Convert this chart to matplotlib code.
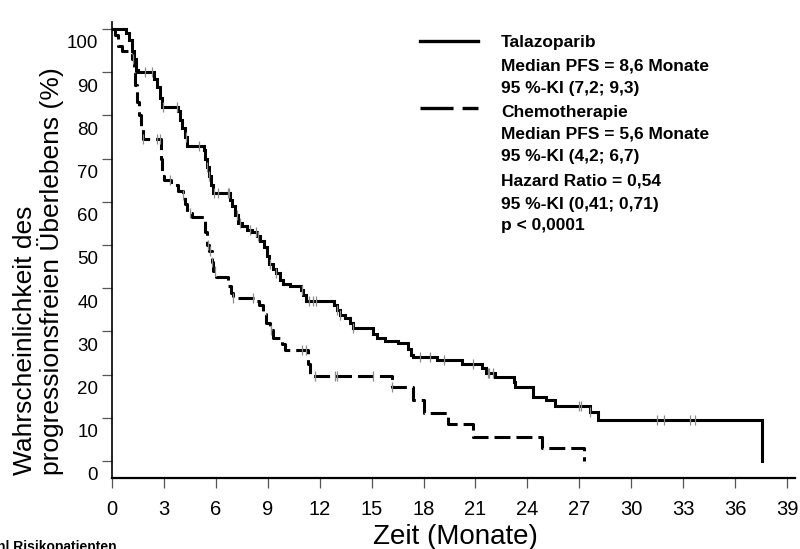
import numpy as np
import matplotlib
matplotlib.use("Agg")
import matplotlib.pyplot as plt
from matplotlib import transforms
from matplotlib.lines import Line2D

plt.rcParams['font.family'] = ['Liberation Sans', 'DejaVu Sans']
plt.rcParams['lines.scale_dashes'] = False

# ---- data ----
tala_t = [0, 0.8, 1.0, 1.15, 1.25, 1.4, 1.5, 2.45, 2.6, 2.75, 2.9, 3.8, 3.95, 4.05, 4.2, 4.35,
          5.3, 5.4, 5.5, 5.6, 5.7, 5.85, 6.8, 6.95, 7.1, 7.3, 7.5, 7.8, 8.1, 8.35, 8.55, 8.8,
          8.95, 9.05, 9.3, 9.5, 9.7, 9.9, 10.3, 10.9, 11.05, 11.2, 12.8, 13.0, 13.2, 13.45,
          13.75, 13.9, 15.1, 15.3, 15.8, 16.5, 17.1, 17.3, 17.4, 18.8, 20.2, 21.4, 21.6, 22.1,
          23.2, 23.3, 24.3, 25.1, 25.6, 27.6, 28.1, 37.55]
tala_s = [100, 99, 97.5, 95, 93, 90.5, 90, 88.5, 86.5, 84, 82, 81, 79, 77, 75, 73,
          72, 70, 68, 66, 64, 62, 60.5, 59, 57, 55, 54.5, 53.5, 53, 52, 51, 49.5,
          47.5, 45.5, 44.5, 43.5, 42, 41, 40.5, 39.6, 38.5, 37, 36, 35, 33.8, 33,
          32, 30.8, 29.5, 28.5, 27.8, 27.3, 26, 24.5, 24, 23.4, 22.5, 21.5, 20.4, 19.4,
          18.2, 17.1, 14.8, 14.1, 12.8, 11.4, 9.6, 0]
tala_cens = [1.9, 2.3, 2.95, 3.75, 4.3, 5.0, 5.5, 5.6, 5.9, 6.1, 6.7, 6.75, 7.2, 7.4, 8.0, 8.3,
             8.45, 9.1, 9.5, 11.0, 11.4, 11.6, 11.8, 13.0, 13.2, 13.9, 17.8, 18.4, 19.2,
             20.85, 21.7, 21.8, 22.0, 27.0, 27.1, 27.6, 31.5, 31.9, 33.4, 33.7]

chemo_t = [0, 0.2, 0.35, 0.55, 1.0, 1.15, 1.25, 1.35, 1.45, 1.55, 1.65, 1.8, 2.85, 2.9, 3.0,
           3.4, 3.8, 4.1, 4.2, 4.35, 4.6, 5.3, 5.4, 5.5, 5.6, 5.75, 5.85, 6.0, 6.7, 6.85, 7.0,
           8.3, 8.5, 8.7, 8.9, 9.1, 9.3, 9.8, 10.0, 11.3, 11.45, 16.2, 17.4, 18.0, 19.4, 20.85,
           24.85, 27.27]
chemo_s = [100, 98.5, 96, 95, 94.4, 93, 90, 87, 83, 80, 77, 74.5, 70, 66, 65,
           64, 62.5, 61.5, 59.5, 57.5, 56.5, 56, 53, 50, 48.5, 46, 44, 42.6, 40.5, 38.9, 37.7,
           37, 36, 34, 32, 30.3, 28.5, 27, 25.7, 22.5, 19.6, 17.1, 14.1, 11.1, 8.6, 5.6,
           2.9, 0]
chemo_cens = [1.2, 1.8, 2.6, 2.8, 3.35, 4.1, 4.5, 5.55, 5.66, 5.8, 5.95, 7.0, 8.15, 9.2,
              11.0, 11.2, 11.7, 12.9, 13.0, 15.1, 16.2]

xticks = list(range(0, 40, 3))
yticks = list(range(0, 101, 10))

legend_lines = ["Talazoparib", "Median PFS = 8,6 Monate", "95 %-KI (7,2; 9,3)",
                "Chemotherapie", "Median PFS = 5,6 Monate", "95 %-KI (4,2; 6,7)",
                "Hazard Ratio = 0,54", "95 %-KI (0,41; 0,71)", "p < 0,0001"]

# ---- figure ----
W, H = 800, 549
fig = plt.figure(figsize=(W / 100, H / 100), dpi=100)
ax = fig.add_axes([112 / W, 1 - 478 / H, (795 - 112) / W, (478 - 22) / H])

def step_value(t_arr, s_arr, t):
    idx = np.searchsorted(np.asarray(t_arr), t, side='right') - 1
    return np.asarray(s_arr)[idx]

ax.step(tala_t, tala_s, where='post', color='black', lw=2.2, solid_joinstyle='miter')
ax.step(chemo_t, chemo_s, where='post', color='black', lw=2.2,
        linestyle=(0, (11.5, 4.3)))

for ts, ss, cs in [(tala_t, tala_s, tala_cens), (chemo_t, chemo_s, chemo_cens)]:
    cy = [step_value(ts, ss, c) for c in cs]
    ax.plot(cs, cy, linestyle='none', marker='|', markersize=7, mew=0.9,
            color='#8c8c8c')

ax.set_xlim(0, 39.46)
ax.set_ylim(-3.94, 101.62)
ax.set_xticks(xticks)
ax.set_yticks(yticks)
ax.spines['top'].set_visible(False)
ax.spines['right'].set_visible(False)
ax.spines['left'].set_linewidth(1.2)
ax.spines['bottom'].set_linewidth(1.6)
ax.tick_params(axis='x', length=7, width=0.9, labelsize=14.5, pad=9, color='#555555')
ax.tick_params(axis='y', length=7, width=0.9, labelsize=13.5, pad=3, color='#555555')

offset = transforms.ScaledTranslation(0, -13 / 100, fig.dpi_scale_trans)
for lab in ax.get_yticklabels():
    lab.set_transform(lab.get_transform() + offset)

# axis labels
fig.text(455 / W, 1 - 537 / H, "Zeit (Monate)", ha='center', va='center', fontsize=20)
fig.text(39 / W, 1 - 475 / H, "Wahrscheinlichkeit des\nprogressionsfreien Überlebens (%)",
         rotation=90, ha='center', va='bottom', multialignment='left', fontsize=19,
         linespacing=1.0)
fig.text(117 / W, 1 - 540 / H, "Anzahl Risikopatienten", ha='right', va='top',
         fontsize=10, fontweight='bold')

# legend / annotation block
ys = [42, 66, 89, 112, 134, 156, 181, 204, 226]
for txt, y in zip(legend_lines, ys):
    fig.text(501 / W, 1 - y / H, txt, ha='left', va='center', fontsize=12.5,
             fontweight='bold')
fig.add_artist(Line2D([420 / W, 478 / W], [1 - 41 / H, 1 - 41 / H], color='black', lw=2.4,
                      transform=fig.transFigure))
fig.add_artist(Line2D([420 / W, 478 / W], [1 - 108 / H, 1 - 108 / H], color='black', lw=2.4,
                      linestyle=(0, (23.8, 6.5)), transform=fig.transFigure))

fig.savefig("out.png", dpi=100)
